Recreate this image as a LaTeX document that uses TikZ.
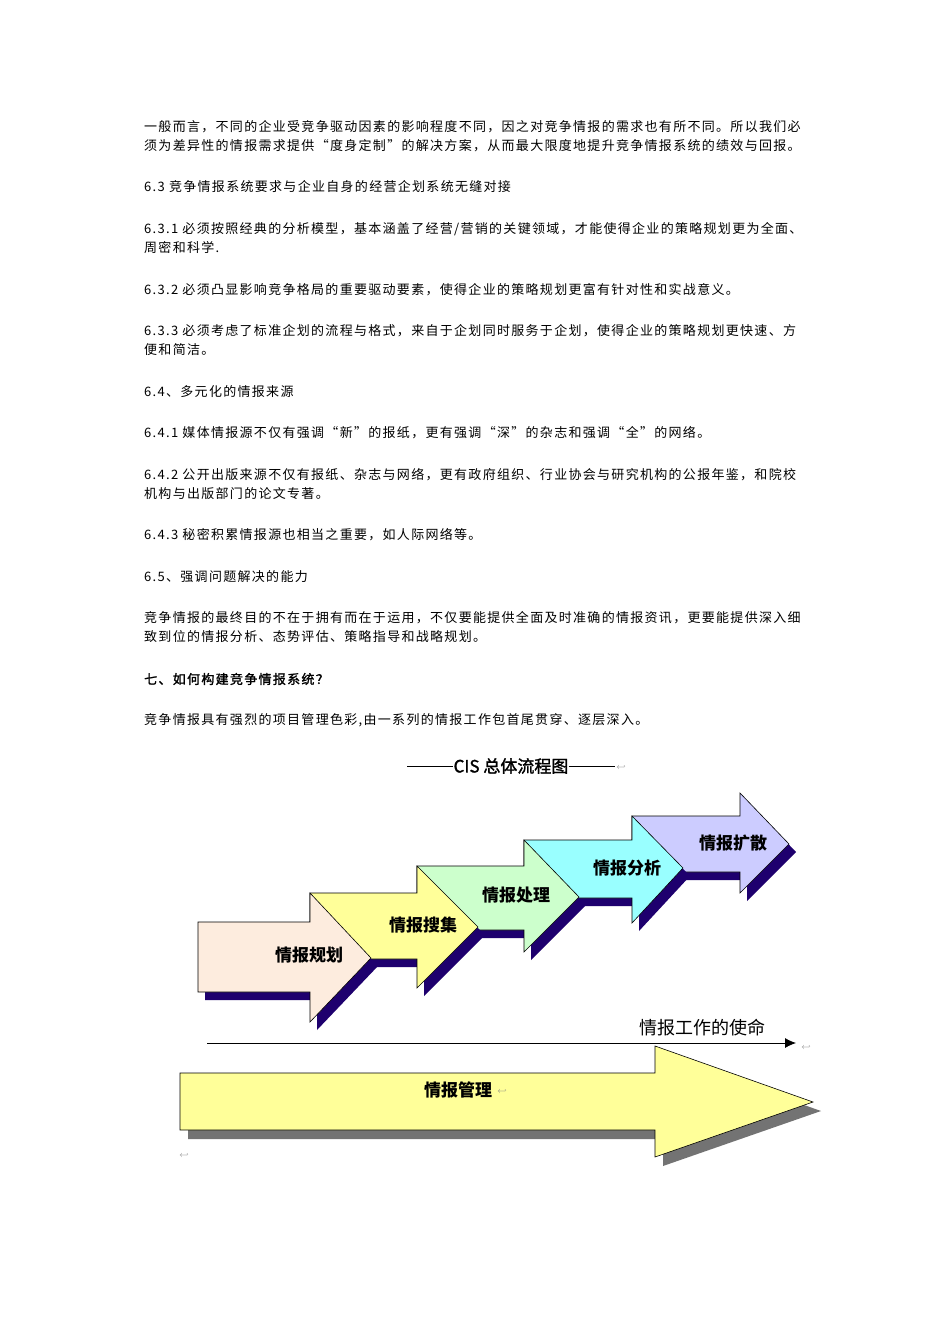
\documentclass[tikz,border=0pt]{standalone}
\usepackage{fontspec}
\usetikzlibrary{arrows.meta}
\newfontfamily\cjk{Noto Sans CJK SC}
\newfontfamily\cjkt[LetterSpace=10]{Noto Sans CJK SC}
\newfontfamily\cjktb[LetterSpace=10,FakeBold=1.5]{Noto Sans CJK SC}
\newfontfamily\cjkb[FakeBold=1.5]{Noto Sans CJK SC}
\begin{document}
\begin{tikzpicture}[x=1pt,y=-1pt,
  body/.style={anchor=west,font=\cjkt\fontsize{13}{14}\selectfont,inner sep=0pt},
  lab/.style={font=\cjk\bfseries\fontsize{17}{20}\selectfont,inner sep=0pt},
  shad/.style={fill=black!55},
  nshad/.style={fill={rgb,255:red,30;green,0;blue,110}}]
\useasboundingbox[fill=white] (0,0) rectangle (950,1344);
\node[body] (t1) at (144,127) {一般而言，不同的企业受竞争驱动因素的影响程度不同，因之对竞争情报的需求也有所不同。所以我们必};
\node[body] (t2) at (144,146) {须为差异性的情报需求提供“度身定制”的解决方案，从而最大限度地提升竞争情报系统的绩效与回报。};
\node[body] (t3) at (144,187) {6.3 竞争情报系统要求与企业自身的经营企划系统无缝对接};
\node[body] (t4) at (144,229) {6.3.1 必须按照经典的分析模型，基本涵盖了经营/营销的关键领域，才能使得企业的策略规划更为全面、};
\node[body] (t5) at (144,248) {周密和科学.};
\node[body] (t6) at (144,290) {6.3.2 必须凸显影响竞争格局的重要驱动要素，使得企业的策略规划更富有针对性和实战意义。};
\node[body] (t7) at (144,331) {6.3.3 必须考虑了标准企划的流程与格式，来自于企划同时服务于企划，使得企业的策略规划更快速、方};
\node[body] (t8) at (144,350) {便和简洁。};
\node[body] (t9) at (144,392) {6.4、多元化的情报来源};
\node[body] (t10) at (144,433) {6.4.1 媒体情报源不仅有强调“新”的报纸，更有强调“深”的杂志和强调“全”的网络。};
\node[body] (t11) at (144,475) {6.4.2 公开出版来源不仅有报纸、杂志与网络，更有政府组织、行业协会与研究机构的公报年鉴，和院校};
\node[body] (t12) at (144,494) {机构与出版部门的论文专著。};
\node[body] (t13) at (144,535) {6.4.3 秘密积累情报源也相当之重要，如人际网络等。};
\node[body] (t14) at (144,577) {6.5、强调问题解决的能力};
\node[body] (t15) at (144,618) {竞争情报的最终目的不在于拥有而在于运用，不仅要能提供全面及时准确的情报资讯，更要能提供深入细};
\node[body] (t16) at (144,637) {致到位的情报分析、态势评估、策略指导和战略规划。};
\node[body,font=\cjktb\fontsize{13}{14}\selectfont] (t17) at (144,679) {七、如何构建竞争情报系统？};
\node[body] (t18) at (144,720) {竞争情报具有强烈的项目管理色彩,由一系列的情报工作包首尾贯穿、逐层深入。};
% title
\node[font=\cjkb\fontsize{17}{20}\selectfont,inner sep=0pt] (title) at (511,766) {CIS 总体流程图};
\draw[line width=1pt] (407,766) -- (title.west);
\draw[line width=1pt] (title.east) -- (615,766);
\node[font=\fontsize{8}{8}\selectfont,text=black!50,inner sep=0pt] (r1) at (621,768) {$\hookleftarrow$};
% stepped arrows: L bt bb hb ht hbot tip tipy color
\foreach \L/\bt/\bb/\hb/\ht/\hbot/\tp/\ty/\c [count=\i] in {
 632/816/872/740/793/893/789/844/{rgb,255:red,204;green,204;blue,255},
 524/840/898/632/816/923/683/868/{rgb,255:red,153;green,255;blue,255},
 417/866/930/524/840/952/579/897/{rgb,255:red,204;green,255;blue,204},
 310/893/959/417/866/988/478/927/{rgb,255:red,255;green,255;blue,153},
 198/922/992/310/893/1022/371/958/{rgb,255:red,253;green,236;blue,222}}{
  \fill[nshad,shift={(7,8)}] (\L,\bt) -- (\hb,\bt) -- (\hb,\ht) -- (\tp,\ty) -- (\hb,\hbot) -- (\hb,\bb) -- (\L,\bb) -- cycle;
  \draw[fill=\c,line width=0.6pt] (\L,\bt) -- (\hb,\bt) -- (\hb,\ht) -- (\tp,\ty) -- (\hb,\hbot) -- (\hb,\bb) -- (\L,\bb) -- cycle;
}
\node[lab] (a1) at (309,955) {情报规划};
\node[lab] (a2) at (423,925) {情报搜集};
\node[lab] (a3) at (516,895) {情报处理};
\node[lab] (a4) at (627,868) {情报分析};
\node[lab] (a5) at (733,843) {情报扩散};
% mission line
\coordinate (m0) at (207,1043);
\coordinate (m1) at (796,1043);
\draw[line width=0.8pt,-{Latex[length=11pt,width=10pt]}] (m0) -- (m1);
\node[font=\cjk\fontsize{18}{20}\selectfont,inner sep=0pt] (mis) at (702,1028) {情报工作的使命};
\node[font=\fontsize{8}{8}\selectfont,text=black!50,inner sep=0pt] (r2) at (806,1048) {$\hookleftarrow$};
% big arrow
\fill[shad,shift={(8,9)}] (180,1073) -- (655,1073) -- (655,1046) -- (813,1102) -- (655,1157) -- (655,1130) -- (180,1130) -- cycle;
\draw[fill={rgb,255:red,255;green,255;blue,153},line width=0.6pt] (180,1073) -- (655,1073) -- (655,1046) -- (813,1102) -- (655,1157) -- (655,1130) -- (180,1130) -- cycle;
\node[lab] (mg) at (458,1090) {情报管理};
\node[font=\fontsize{8}{8}\selectfont,text=black!50,inner sep=0pt] (r3) at (502,1092) {$\hookleftarrow$};
\node[font=\fontsize{8}{8}\selectfont,text=black!50,inner sep=0pt] (r4) at (184,1156) {$\hookleftarrow$};
\end{tikzpicture}
\end{document}
